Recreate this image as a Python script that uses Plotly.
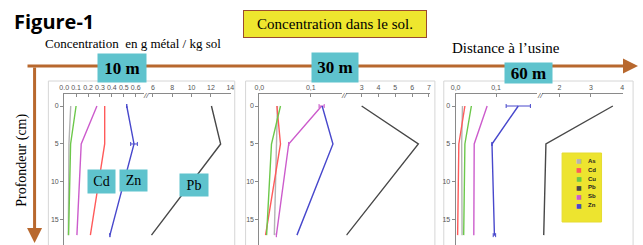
import plotly.graph_objects as go

# ---------------- data ----------------
depths = [0, 5, 17]
elements = ["As", "Cd", "Cu", "Pb", "Sb", "Zn"]
colors = {"As": "#b4b4b4", "Cd": "#ff5a5a", "Cu": "#6cc84a", "Pb": "#484848",
          "Sb": "#cc5ccc", "Zn": "#4848cc"}

# 10 m
as_10 = [0.055, 0.040, 0.035]
cd_10 = [0.34, 0.34, 0.22]
cu_10 = [0.10, 0.054, 0.037]
pb_10 = [12.05, 13.0, 5.85]
sb_10 = [0.275, 0.143, 0.107]
zn_10 = [0.525, 0.586, 0.384]
zn_10_err = [0, 0.028, 0]

# 30 m
as_30 = [0.035, 0.033, 0.029]
cd_30 = [0.034, 0.041, 0.012]
cu_30 = [0.041, 0.0235, 0.014]
pb_30 = [3.0, 6.37, 2.1]
sb_30 = [0.121, 0.057, 0.033]
zn_30 = [0.122, 0.143, 0.073]
sb_30_err = [0.005, 0, 0]

# 60 m
as_60 = [0.017, 0.015, 0.016]
cd_60 = [0.023, 0.008, 0.005]
cu_60 = [0.039, 0.023, 0.020]
pb_60 = [3.7, 1.57, 1.5]
sb_60 = [0.078, 0.046, 0.045]
zn_60 = [0.155, 0.090, 0.096]
zn_60_err = [0.03, 0, 0.003]

y_ticks = [0, 5, 10, 15]
p1_left_ticks = [0, 0.1, 0.2, 0.3, 0.4, 0.5, 0.6]
p1_left_text = ["0.0", "0.1", "0.2", "0.3", "0.4", "0.5", "0.6"]
p1_right_ticks = [6, 8, 10, 12, 14]
p2_left_ticks = [0, 0.1]
p2_left_text = ["0,0", "0,1"]
p2_right_ticks = [3, 4, 5, 6, 7]
p3_left_ticks = [0, 0.1]
p3_left_text = ["0,0", "0,1"]
p3_right_ticks = [2, 3, 4]

panel_labels = ["10 m", "30 m", "60 m"]
metal_labels = ["Cd", "Zn", "Pb"]

W, H = 643, 245
def P(x):
    return x / W
def Q(y):
    return 1 - y / H

panels = [
    dict(data={"As": as_10, "Cd": cd_10, "Cu": cu_10, "Pb": pb_10, "Sb": sb_10, "Zn": zn_10},
         err={"Zn": zn_10_err},
         left=(60, 141, [0, 0.67], p1_left_ticks, p1_left_text),
         right=(146, 229, [5.59, 14.05], p1_right_ticks, [str(v) for v in p1_right_ticks])),
    dict(data={"As": as_30, "Cd": cd_30, "Cu": cu_30, "Pb": pb_30, "Sb": sb_30, "Zn": zn_30},
         err={"Sb": sb_30_err},
         left=(258, 342, [0, 0.161], p2_left_ticks, p2_left_text),
         right=(346, 431, [2.08, 7.06], p2_right_ticks, [str(v) for v in p2_right_ticks])),
    dict(data={"As": as_60, "Cd": cd_60, "Cu": cu_60, "Pb": pb_60, "Sb": sb_60, "Zn": zn_60},
         err={"Zn": zn_60_err},
         left=(457, 540, [0, 0.2024], p3_left_ticks, p3_left_text),
         right=(545, 627, [1.457, 4.03], p3_right_ticks, [str(v) for v in p3_right_ticks])),
]

fig = go.Figure()
layout = dict(width=W, height=H, margin=dict(l=0, r=0, t=0, b=0),
              paper_bgcolor="white", plot_bgcolor="rgba(0,0,0,0)", showlegend=False)

ydom = [0, Q(94)]
tickfont = dict(family="Liberation Sans", size=7, color="#555555")

for i, pnl in enumerate(panels):
    xl = 2 * i + 1
    xr = 2 * i + 2
    yi = i + 1
    xl_name = "xaxis" if xl == 1 else f"xaxis{xl}"
    xr_name = f"xaxis{xr}"
    y_name = "yaxis" if yi == 1 else f"yaxis{yi}"
    xl_ref = "x" if xl == 1 else f"x{xl}"
    xr_ref = f"x{xr}"
    y_ref = "y" if yi == 1 else f"y{yi}"

    for side_key, name, ref in (("left", xl_name, xl_ref), ("right", xr_name, xr_ref)):
        d0, d1, rng, tv, tt = pnl[side_key]
        layout[name] = dict(domain=[P(d0), P(d1)], range=rng, anchor=y_ref, side="top",
                            showline=True, linecolor="#8a8a8a", linewidth=1,
                            ticks="inside", ticklen=3, tickcolor="#8a8a8a",
                            tickvals=tv, ticktext=tt, tickfont=tickfont,
                            showgrid=False, zeroline=False, fixedrange=True)
    layout[y_name] = dict(domain=ydom, range=[18.3, -1.58], anchor=xl_ref,
                          showline=True, linecolor="#8a8a8a", linewidth=1,
                          ticks="outside", ticklen=3, tickcolor="#8a8a8a",
                          tickvals=y_ticks, tickfont=tickfont,
                          showgrid=False, zeroline=False, fixedrange=True)

    for el in elements:
        vals = pnl["data"][el]
        xref = xr_ref if el == "Pb" else xl_ref
        tr = dict(x=vals, y=depths, mode="lines", xaxis=xref, yaxis=y_ref,
                  line=dict(color=colors[el], width=1.4), name=el)
        if el in pnl["err"]:
            tr["error_x"] = dict(type="data", array=pnl["err"][el], color=colors[el],
                                 thickness=1, width=2)
        fig.add_trace(go.Scatter(**tr))

fig.update_layout(**layout)

shapes = []
# panel boxes
for (a, b) in [(44, 233), (244, 436), (445, 637)]:
    shapes.append(dict(type="rect", xref="paper", yref="paper", x0=P(a), x1=P(b),
                       y0=Q(247), y1=Q(81), line=dict(color="#d6d6d6", width=1),
                       fillcolor="white", layer="below"))
# legend box
shapes.append(dict(type="rect", xref="paper", yref="paper", x0=P(565), x1=P(605),
                   y0=Q(222), y1=Q(153), line=dict(color="#e6dc30", width=1),
                   fillcolor="#ede42f", layer="above"))
fig.update_layout(shapes=shapes)

ann = []
brown = "#b8682e"

def text_ann(x, y, text, font, **kw):
    d = dict(x=P(x), y=Q(y), xref="paper", yref="paper", text=text, showarrow=False,
             xanchor="center", yanchor="middle", font=font)
    d.update(kw)
    return d

# axes arrows
ann.append(dict(x=P(642), y=Q(66), xref="paper", yref="paper", ax=-612, ay=0,
                text="", showarrow=True, arrowhead=2, arrowsize=1, arrowwidth=3,
                arrowcolor=brown))
ann.append(dict(x=P(30), y=Q(243), xref="paper", yref="paper", ax=0, ay=-177,
                text="", showarrow=True, arrowhead=2, arrowsize=1, arrowwidth=3,
                arrowcolor=brown))
# texts
ann.append(text_ann(7, 22, "<b>Figure-1</b>",
                    dict(family="Open Sans", size=20, color="black"), xanchor="left"))
ann.append(text_ann(130, 43, "Concentration  en g métal / kg sol",
                    dict(family="Liberation Serif", size=13, color="black")))
ann.append(text_ann(335, 24, "Concentration dans le sol.",
                    dict(family="Liberation Serif", size=15, color="black"),
                    bgcolor="#eee62e", bordercolor="#9a4a30", borderwidth=1, borderpad=0,
                    width=182, height=26))
ann.append(text_ann(508, 48, "Distance à l’usine",
                    dict(family="Liberation Serif", size=15, color="black")))
ann.append(text_ann(17, 160, "Profondeur (cm)",
                    dict(family="Liberation Serif", size=14, color="black"), textangle=-90))
# distance labels
for lab, (cx, cy, w, h) in zip(panel_labels, [(119, 68, 48, 28), (335, 67.5, 46, 29),
                                              (530.5, 73, 47, 20)]):
    ann.append(text_ann(cx, cy, f"<b>{lab}</b>",
                        dict(family="Liberation Serif", size=17, color="black"),
                        bgcolor="#5fc3cd", borderpad=0, width=w, height=h))
# metal labels in panel 1
for lab, (cx, cy, w, h) in zip(metal_labels, [(98, 181.5, 27, 23), (130, 180.5, 27, 21),
                                              (192, 184.5, 28, 22)]):
    ann.append(text_ann(cx, cy, lab, dict(family="Liberation Serif", size=14, color="black"),
                        bgcolor="#5fc3cd", borderpad=0, width=w, height=h))
# axis break marks
for bx in (143.5, 344, 542.5):
    ann.append(text_ann(bx, 95, "<i>//</i>",
                        dict(family="Liberation Sans", size=8, color="#555555")))
# legend entries
for k, el in enumerate(elements):
    yy = 160.7 + k * 8.9
    ann.append(text_ann(582, yy, "■", dict(family="DejaVu Sans", size=6, color=colors[el])))
    ann.append(text_ann(589, yy, f"<b>{el}</b>",
                        dict(family="Liberation Sans", size=6, color="#222222"),
                        xanchor="left"))
fig.update_layout(annotations=ann)

fig.write_html("out.html", config={"displayModeBar": False},
               post_script="document.body.style.margin='0';document.body.style.overflow='hidden';")
